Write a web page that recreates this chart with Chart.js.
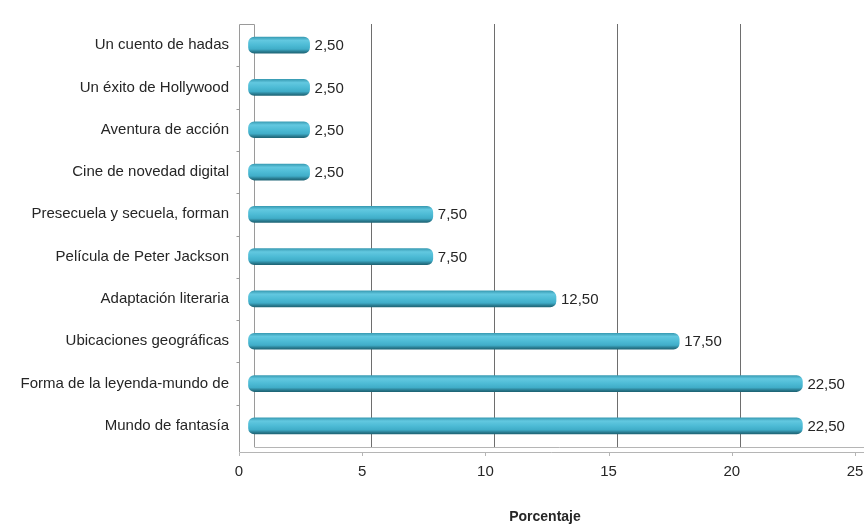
<!DOCTYPE html>
<html>
<head>
<meta charset="utf-8">
<script src="https://cdn.jsdelivr.net/npm/chart.js@4.4.1/dist/chart.umd.min.js"></script>
<style>
  html, body { margin: 0; padding: 0; background: #ffffff; overflow: hidden; }
  #wrap { width: 864px; height: 526px; position: relative; }
</style>
</head>
<body>
<div id="wrap"><canvas id="c"></canvas></div>
<script>
const categories = [
  'Un cuento de hadas',
  'Un éxito de Hollywood',
  'Aventura de acción',
  'Cine de novedad digital',
  'Presecuela y secuela, forman',
  'Película de Peter Jackson',
  'Adaptación literaria',
  'Ubicaciones geográficas',
  'Forma de la leyenda-mundo de',
  'Mundo de fantasía'
];
const percentages = [2.5, 2.5, 2.5, 2.5, 7.5, 7.5, 12.5, 17.5, 22.5, 22.5];
const xTicks = [0, 5, 10, 15, 20, 25];
const xTitle = 'Porcentaje';

const FONT = "'Liberation Sans', Arial, sans-serif";
const FS = 15;
const TEXT = '#262626';
const FRONT_SHIFT = -9;

function barFill(ctx) {
  const chart = ctx.chart;
  if (!chart.chartArea || ctx.type !== 'data' || !chart.scales.y) return '#45b4ce';
  const y = chart.scales.y.getPixelForValue(ctx.dataIndex);
  const h = 8;
  const g = chart.ctx.createLinearGradient(0, y - h, 0, y + h);
  g.addColorStop(0, '#3a9db5');
  g.addColorStop(0.2, '#62c8e0');
  g.addColorStop(0.5, '#4dbbd5');
  g.addColorStop(0.75, '#40adc8');
  g.addColorStop(0.9, '#2a7d92');
  g.addColorStop(1, '#1f6677');
  return g;
}

const frame3d = {
  id: 'frame3d',
  beforeDatasetsDraw(chart) {
    const { ctx, chartArea: a, scales: { x, y } } = chart;
    ctx.save();
    ctx.lineWidth = 1;
    ctx.strokeStyle = '#9a9a9a';
    const wl = a.left - 8.5, wr = a.left + 6.5;
    ctx.beginPath();
    ctx.moveTo(wl, a.top + 0.5); ctx.lineTo(wr, a.top + 0.5);
    ctx.moveTo(wl, a.top + 0.5); ctx.lineTo(wl, a.bottom + 5);
    ctx.moveTo(wr, a.top + 0.5); ctx.lineTo(wr, a.bottom);
    ctx.stroke();
    const step = (y.getPixelForValue(1) - y.getPixelForValue(0));
    ctx.beginPath();
    for (let i = 0; i < categories.length - 1; i++) {
      const py = Math.round(y.getPixelForValue(i) + step / 2) + 0.5;
      ctx.moveTo(wl - 3, py); ctx.lineTo(wl, py);
    }
    ctx.stroke();
    ctx.strokeStyle = '#b5b5b5';
    ctx.beginPath();
    ctx.moveTo(wr, a.bottom + 0.5); ctx.lineTo(a.right, a.bottom + 0.5);
    ctx.moveTo(wl, a.bottom + 5.5); ctx.lineTo(a.right, a.bottom + 5.5);
    xTicks.forEach(v => {
      const px = Math.round(x.getPixelForValue(v) + FRONT_SHIFT) + 0.5;
      ctx.moveTo(px, a.bottom + 5.5); ctx.lineTo(px, a.bottom + 9);
    });
    ctx.stroke();
    ctx.restore();
  }
};

const valueLabels = {
  id: 'valueLabels',
  afterDatasetsDraw(chart) {
    const { ctx } = chart;
    const meta = chart.getDatasetMeta(0);
    ctx.save();
    ctx.font = FS + 'px ' + FONT;
    ctx.fillStyle = TEXT;
    ctx.textAlign = 'left';
    ctx.textBaseline = 'middle';
    meta.data.forEach((bar, i) => {
      const txt = percentages[i].toFixed(2).replace('.', ',');
      ctx.fillText(txt, bar.x + 5, bar.y + 1);
    });
    ctx.restore();
  }
};

const axisTitle = {
  id: 'axisTitle',
  afterDraw(chart) {
    const { ctx, chartArea: a } = chart;
    ctx.save();
    ctx.font = 'bold 14px ' + FONT;
    ctx.fillStyle = TEXT;
    ctx.textAlign = 'center';
    ctx.textBaseline = 'middle';
    ctx.fillText(xTitle, (a.left + a.right) / 2 - 11, 517);
    ctx.restore();
  }
};

new Chart(document.getElementById('c'), {
  type: 'bar',
  data: {
    labels: categories,
    datasets: [{
      label: xTitle,
      data: percentages,
      backgroundColor: barFill,
      borderWidth: 0,
      borderRadius: 6,
      borderSkipped: false,
      barThickness: 16
    }]
  },
  options: {
    indexAxis: 'y',
    responsive: true,
    maintainAspectRatio: false,
    animation: false,
    devicePixelRatio: 1,
    layout: { padding: { top: 24, right: 0, bottom: 0, left: 0 } },
    plugins: { legend: { display: false }, tooltip: { enabled: false } },
    scales: {
      x: {
        min: 0, max: 25,
        afterBuildTicks(scale) { scale.ticks = xTicks.map(v => ({ value: v })); },
        afterFit(scale) { scale.height = 79; scale.paddingLeft = 0; scale.paddingRight = 0; },
        border: { display: false },
        grid: {
          drawTicks: false,
          color: (c) => (c.tick && c.tick.value > 0 && c.tick.value < 25) ? '#6e6e6e' : 'rgba(0,0,0,0)',
          lineWidth: 1
        },
        ticks: {
          padding: 16,
          labelOffset: FRONT_SHIFT,
          color: TEXT,
          font: { family: FONT, size: FS },
          maxRotation: 0,
          autoSkip: false
        },
        title: { display: false, text: xTitle }
      },
      y: {
        afterFit(scale) { scale.width = 248; scale.paddingTop = 0; scale.paddingBottom = 0; },
        border: { display: false },
        grid: { display: false, drawTicks: false },
        ticks: {
          padding: 19,
          color: TEXT,
          font: { family: FONT, size: FS },
          autoSkip: false
        }
      }
    }
  },
  plugins: [frame3d, valueLabels, axisTitle]
});
</script>
</body>
</html>
